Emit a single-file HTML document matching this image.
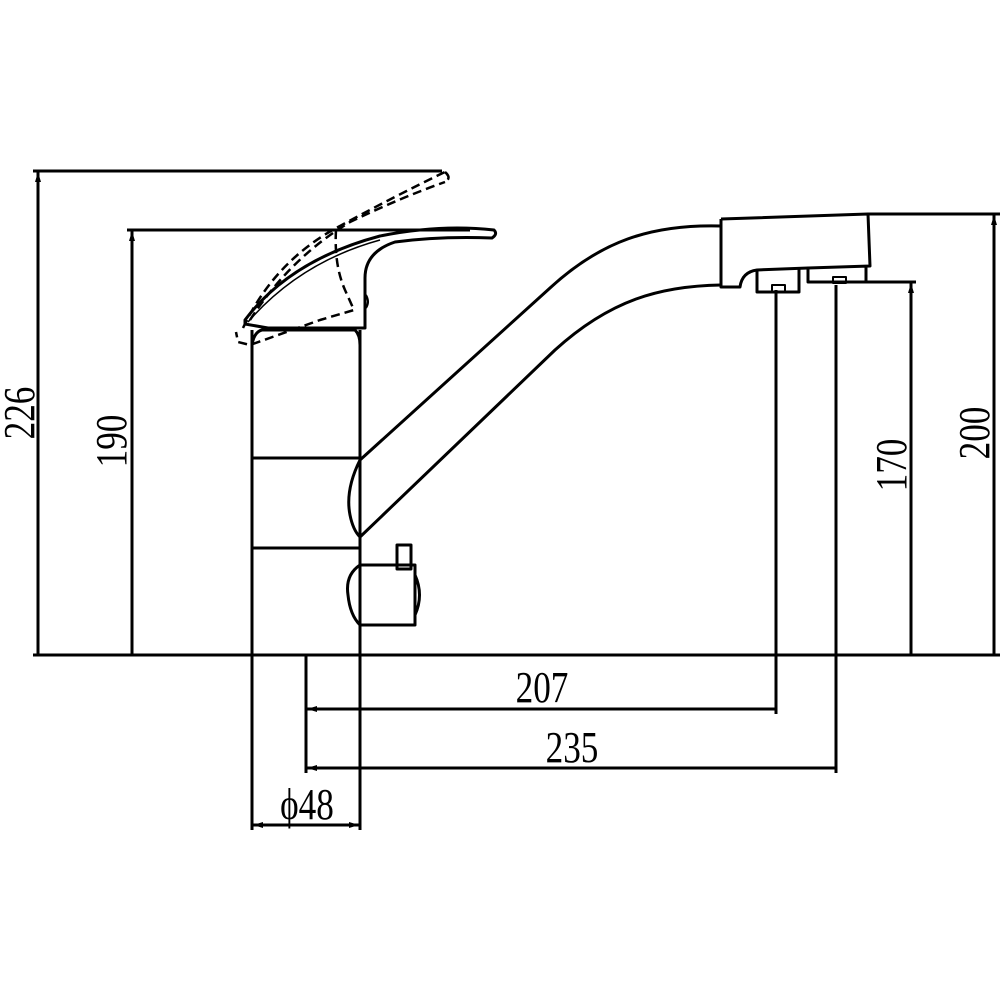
<!DOCTYPE html>
<html><head><style>html,body{margin:0;padding:0;background:#fff}</style></head>
<body>
<svg width="1000" height="1000" viewBox="0 0 1000 1000" xmlns="http://www.w3.org/2000/svg">
<defs>
<marker id="a" markerWidth="10" markerHeight="6" refX="10" refY="3" orient="auto" markerUnits="userSpaceOnUse">
<path d="M0,0 L10,3 L0,6 Z" fill="#000"/></marker>
</defs>
<g stroke="#000" stroke-width="3" fill="none" stroke-linejoin="round">
<line x1="33" y1="655" x2="1000" y2="655"/>
<line x1="33" y1="171" x2="442" y2="171"/>
<line x1="38" y1="655" x2="38" y2="172" marker-end="url(#a)"/>
<line x1="127" y1="230" x2="470" y2="230"/>
<line x1="132" y1="655" x2="132" y2="231" marker-end="url(#a)"/>
<line x1="868" y1="214" x2="1000" y2="214"/>
<line x1="994" y1="655" x2="994" y2="215" marker-end="url(#a)"/>
<line x1="865" y1="282" x2="916" y2="282"/>
<line x1="911" y1="655" x2="911" y2="283" marker-end="url(#a)"/>
<line x1="306" y1="655" x2="306" y2="773"/>
<line x1="776" y1="290" x2="776" y2="714"/>
<line x1="836" y1="285" x2="836" y2="773"/>
<line x1="776" y1="709" x2="307" y2="709" marker-end="url(#a)"/>
<line x1="836" y1="768" x2="307" y2="768" marker-end="url(#a)"/>
<line x1="252" y1="330" x2="252" y2="830"/>
<line x1="360" y1="330" x2="360" y2="830"/>
<line x1="306" y1="825" x2="253" y2="825" marker-end="url(#a)"/>
<line x1="306" y1="825" x2="359" y2="825" marker-end="url(#a)"/>
<path d="M252,345 Q254,332 262,330 L355,330 Q360,335 360,345"/>
<line x1="252" y1="458" x2="360" y2="458"/>
<line x1="252" y1="548" x2="360" y2="548"/>
<path d="M245,324 L268,328 L365,328 L365,278 Q365,252 395,242 Q440,236 492,238 Q498,234 494,230 Q440,224 380,236 Q290,260 245,320 Z"/>
<path d="M248,322 Q300,262 380,240" stroke-width="1.5"/>
<path d="M366,295 Q370,302 366,308" stroke-width="2"/>
<g stroke-dasharray="9,5" stroke-width="2.5">
<path d="M243,328 Q275,260 340,226 Q395,196 445,172"/>
<path d="M250,320 Q290,258 350,222 Q400,198 445,182"/>
<path d="M445,172 Q452,178 445,182"/>
<path d="M336,230 Q334,265 345,290 L354,310 L320,320 L250,345 L238,342 L236,332"/>
</g>
<path d="M360,460 Q345,490 350,515 Q353,530 360,537"/>
<path d="M360,460 L550,288 C600,242 650,224 721,226"/>
<path d="M360,537 L555,350 C610,300 660,286 721,285"/>
<path d="M721,219 L868,214 L870,266 L808,268 L808,282 L866,282 L866,266"/>
<path d="M721,219 L721,287 L740,287 Q742,272 757,270 L808,268"/>
<path d="M757,270 L757,292 L799,292 L799,269"/>
<rect x="772" y="285" width="13" height="7" stroke-width="2"/>
<rect x="833" y="277" width="13" height="6" stroke-width="2"/>
<path d="M360,565 Q345,575 348,595 Q350,615 360,625 L415,625 L415,565 Z"/>
<path d="M415,575 Q424,595 415,615" stroke-width="3"/>
<rect x="397" y="545" width="14" height="24"/>
</g>
<g font-family="Liberation Serif, serif" font-size="44" fill="#000">
<text transform="translate(34,413) rotate(-90) scale(0.8,1)" text-anchor="middle">226</text>
<text transform="translate(126,441) rotate(-90) scale(0.8,1)" text-anchor="middle">190</text>
<text transform="translate(906,465) rotate(-90) scale(0.8,1)" text-anchor="middle">170</text>
<text transform="translate(989,433) rotate(-90) scale(0.8,1)" text-anchor="middle">200</text>
<text transform="translate(542,702) scale(0.8,1)" text-anchor="middle">207</text>
<text transform="translate(572,762) scale(0.8,1)" text-anchor="middle">235</text>
<text transform="translate(307,819) scale(0.8,1)" text-anchor="middle">ϕ48</text>
</g>
</svg>
</body></html>
